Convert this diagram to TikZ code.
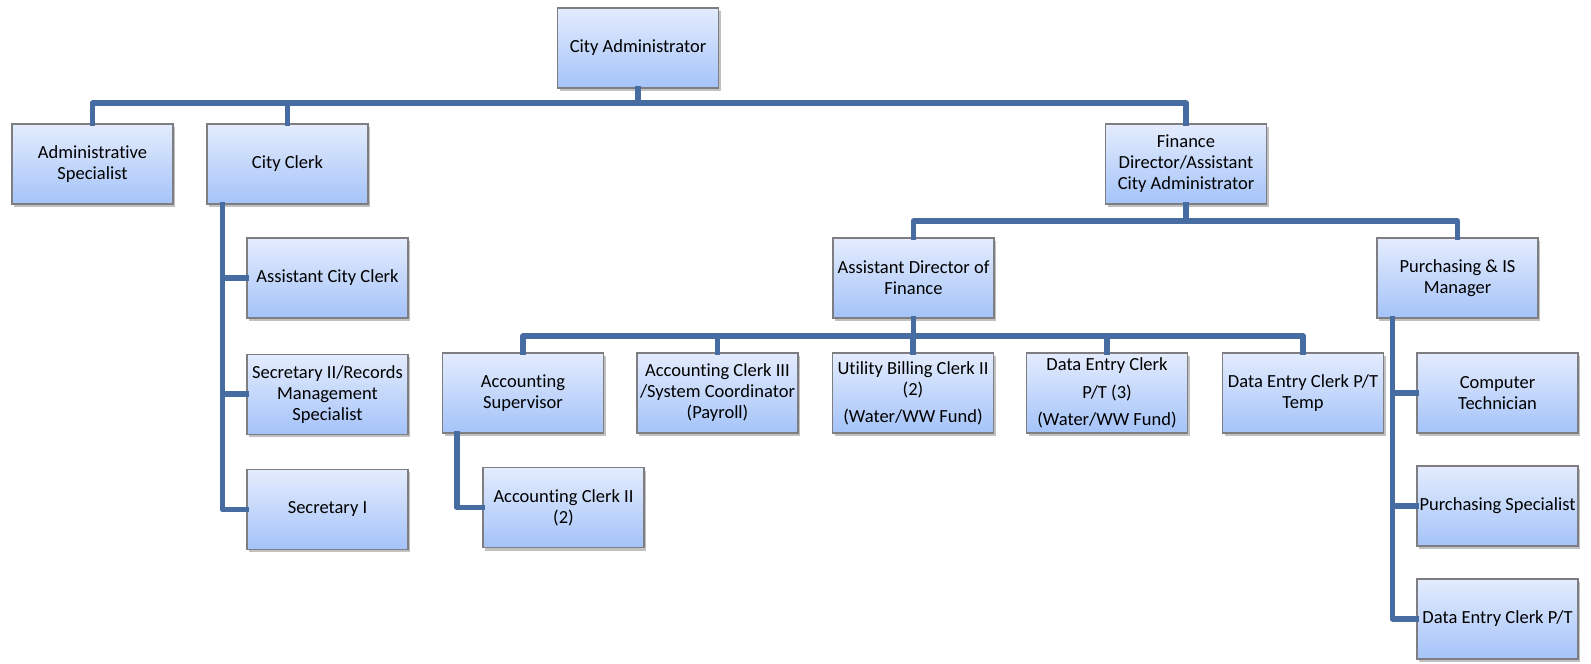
\documentclass[tikz,border=0pt]{standalone}
\usepackage{fontspec}
\setmainfont{Carlito}[RawFeature={-liga;-clig;-calt;-dlig}]
\usepackage{tikz}
\usetikzlibrary{positioning, shadows}
\definecolor{boxtop}{RGB}{228,236,253}
\definecolor{boxbot}{RGB}{164,195,249}
\definecolor{boxline}{RGB}{125,125,130}
\definecolor{orgline}{RGB}{70,108,162}

\begin{document}
\begin{tikzpicture}[
    x=1bp, y=-1bp,
    post/.style={draw=boxline, line width=1.2bp, rectangle,
                 top color=boxtop, bottom color=boxbot,
                 minimum width=161bp, minimum height=80bp,
                 inner sep=1bp, align=center,
                 font=\fontsize{18.5bp}{21bp}\selectfont,
                 drop shadow={shadow xshift=2bp, shadow yshift=-3bp,
                              opacity=0.35, fill=black!70}},
    conn/.style={draw=orgline, line width=5.5bp, line join=round, line cap=rect}
  ]
    \useasboundingbox (0,0) rectangle (1591,664);

    % top levels
    \node[post] (cadm)    at (638,48)    {City Administrator};
    \node[post] (admspec) at (92.5,164)  {Administrative\\Specialist};
    \node[post] (clerk)   at (287.5,164) {City Clerk};
    \node[post] (fin)     at (1186,164)  {Finance\\Director/Assistant\\City Administrator};

    % clerk staff
    \node[post] (asstclerk) at (327.5,278)            {Assistant City Clerk};
    \node[post, below=35bp of asstclerk] (sec2) {Secretary II/Records\\Management\\Specialist};
    \node[post, below=34bp of sec2]      (sec1) {Secretary I};

    % finance
    \node[post] (asstdir) at (913.5,278)  {Assistant Director of\\Finance};
    \node[post] (purch)   at (1457.5,278) {Purchasing \& IS\\Manager};

    \node[post] (acctsup)   at (523,393)    {Accounting\\Supervisor};
    \node[post] (acct3)     at (717.5,393)  {Accounting Clerk III\\/System Coordinator\\(Payroll)};
    \node[post] (util)      at (913,393)    {Utility Billing Clerk II\\(2)\\[6bp](Water/WW Fund)};
    \node[post] (dataentry) at (1107,393)   {Data Entry Clerk\\[7bp]P/T (3)\\[6bp](Water/WW Fund)};
    \node[post] (detemp)    at (1303,393)   {Data Entry Clerk P/T\\Temp};
    \node[post] (acct2)     at (563.5,507.5) {Accounting Clerk II\\(2)};

    \node[post] (comptech)  at (1497.5,393) {Computer\\Technician};
    \node[post] (purchspec) at (1497.5,506) {Purchasing Specialist};
    \node[post] (deptclerk) at (1497.5,619) {Data Entry Clerk P/T};

    % bars
    \coordinate (bar1) at (0,103);
    \coordinate (bar2) at (0,221);
    \coordinate (bar3) at (0,336);
    \coordinate (clerkline) at ([xshift=16bp]clerk.south west);
    \coordinate (supline)   at ([xshift=15bp]acctsup.south west);
    \coordinate (purchline) at ([xshift=16bp]purch.south west);

    \draw[conn] (cadm.south) -- (cadm.south |- bar1);
    \draw[conn] (admspec.north) |- (fin.north |- bar1) -- (fin.north);
    \draw[conn] (clerk.north) -- (clerk.north |- bar1);

    \draw[conn] (clerkline) |- (sec1.west);
    \draw[conn] (asstclerk.west) -- (asstclerk.west -| clerkline);
    \draw[conn] (sec2.west) -- (sec2.west -| clerkline);

    \draw[conn] (fin.south) -- (fin.south |- bar2);
    \draw[conn] (asstdir.north) |- (purch.north |- bar2) -- (purch.north);

    \draw[conn] (asstdir.south) -- (asstdir.south |- bar3);
    \draw[conn] (acctsup.north) |- (detemp.north |- bar3) -- (detemp.north);
    \draw[conn] (acct3.north) -- (acct3.north |- bar3);
    \draw[conn] (util.north) -- (util.north |- bar3);
    \draw[conn] (dataentry.north) -- (dataentry.north |- bar3);

    \draw[conn] (supline) |- (acct2.west);

    \draw[conn] (purchline) |- (deptclerk.west);
    \draw[conn] (comptech.west) -- (comptech.west -| purchline);
    \draw[conn] (purchspec.west) -- (purchspec.west -| purchline);
  \end{tikzpicture}
\end{document}
